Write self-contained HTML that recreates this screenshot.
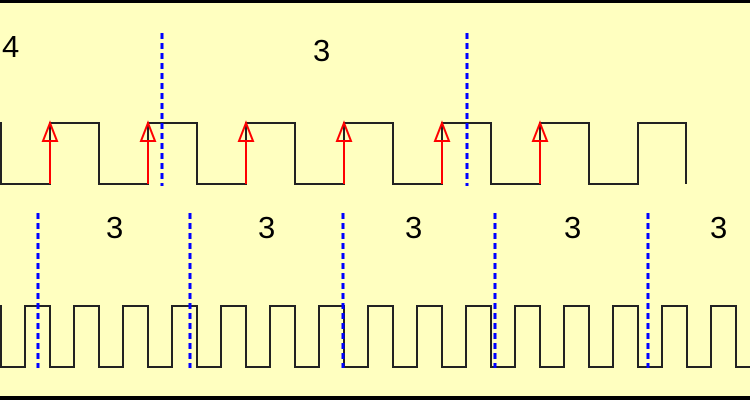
<!DOCTYPE html>
<html><head><meta charset="utf-8"><style>
html,body{margin:0;padding:0;background:#FFFFC0;}
svg{display:block;}
text{font-family:"Liberation Sans",sans-serif;font-size:31px;fill:#000;}
</style></head><body>
<svg width="750" height="400" viewBox="0 0 750 400" xmlns="http://www.w3.org/2000/svg">
<rect x="0" y="0" width="750" height="400" fill="#FFFFC0"/>
<rect x="0" y="0" width="750" height="3" fill="#000"/>
<rect x="0" y="396" width="750" height="4" fill="#000"/>
<path fill="none" stroke="#222" stroke-width="2" d="M0,123 L1,123 L1,184 L50,184 L50,123 L99,123 L99,184 L148,184 L148,123 L197,123 L197,184 L246,184 L246,123 L295,123 L295,184 L344,184 L344,123 L393,123 L393,184 L442,184 L442,123 L491,123 L491,184 L540,184 L540,123 L589,123 L589,184 L638,184 L638,123 L686,123 L686,184"/>
<path fill="none" stroke="#222" stroke-width="2" d="M0,306 L1,306 L1,367 L25,367 L25,306 L50,306 L50,367 L74,367 L74,306 L99,306 L99,367 L123,367 L123,306 L148,306 L148,367 L172,367 L172,306 L197,306 L197,367 L221,367 L221,306 L246,306 L246,367 L270,367 L270,306 L295,306 L295,367 L319,367 L319,306 L344,306 L344,367 L368,367 L368,306 L393,306 L393,367 L417,367 L417,306 L442,306 L442,367 L466,367 L466,306 L491,306 L491,367 L515,367 L515,306 L540,306 L540,367 L564,367 L564,306 L589,306 L589,367 L613,367 L613,306 L638,306 L638,367 L662,367 L662,306 L687,306 L687,367 L711,367 L711,306 L736,306 L736,367 L750,367"/>
<g stroke="#f00" stroke-width="2" fill="none">
<path d="M50,184 V141 M43,141 L50,123 L57,141 Z"/>
<path d="M148,184 V141 M141,141 L148,123 L155,141 Z"/>
<path d="M246,184 V141 M239,141 L246,123 L253,141 Z"/>
<path d="M344,184 V141 M337,141 L344,123 L351,141 Z"/>
<path d="M442,184 V141 M435,141 L442,123 L449,141 Z"/>
<path d="M540,184 V141 M533,141 L540,123 L547,141 Z"/>
</g>
<g stroke="#00f" stroke-width="3" stroke-dasharray="6,4">
<line x1="162" y1="33" x2="162" y2="186"/>
<line x1="467" y1="33" x2="467" y2="186"/>
<line x1="38" y1="213" x2="38" y2="368"/>
<line x1="190" y1="213" x2="190" y2="368"/>
<line x1="343" y1="213" x2="343" y2="368"/>
<line x1="495" y1="213" x2="495" y2="368"/>
<line x1="648" y1="213" x2="648" y2="368"/>
</g>
<text x="2" y="57">4</text>
<text x="313" y="61">3</text>
<text x="106" y="238">3</text>
<text x="258" y="238">3</text>
<text x="405" y="238">3</text>
<text x="564" y="238">3</text>
<text x="710" y="238">3</text>
</svg>
</body></html>
